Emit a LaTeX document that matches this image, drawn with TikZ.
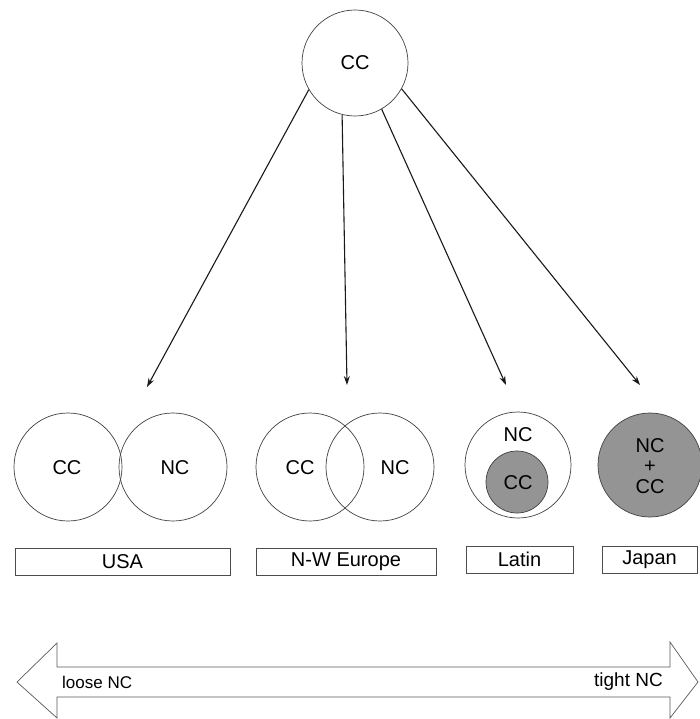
\documentclass[tikz,border=0pt]{standalone}
\usepackage{fontspec}
\setmainfont{Liberation Sans}
\usetikzlibrary{arrows.meta}
\begin{document}
\begin{tikzpicture}[x=1pt,y=-1pt,
  ring/.style={circle,draw=black!75,line width=0.7pt,minimum size=108pt,inner sep=0pt},
  lbl/.style={font=\fontsize{20}{20.5}\selectfont,inner sep=0pt},
  namebox/.style={draw=black!70,line width=0.7pt},
  link/.style={-{Stealth[length=9pt,width=6pt]},line width=1.1pt,black!90},
  shade/.style={fill=black!42}]
\useasboundingbox (0,0) rectangle (699,719);
% top
\node[ring,minimum size=106pt] (top) at (355,63) {};
\node[lbl] (toplbl) at (355,63) {CC};
% USA
\node[ring] (usacc) at (68,467) {};
\node[ring] (usanc) at (173,467) {};
\node[lbl] (usacct) at (67,468) {CC};
\node[lbl] (usanct) at (175,468) {NC};
% N-W Europe
\node[ring] (nwcc) at (310,467) {};
\node[ring] (nwnc) at (380,467) {};
\node[lbl] (nwcct) at (300,468) {CC};
\node[lbl] (nwnct) at (395,468) {NC};
% Latin
\node[ring,minimum size=106pt] (latout) at (518,465) {};
\node[ring,shade,minimum size=62pt] (latin) at (517,482) {};
\node[lbl] (latnc) at (518,435) {NC};
\node[lbl] (latcc) at (518,483) {CC};
% Japan
\node[ring,shade,minimum size=104pt] (jap) at (650,465) {};
\node[lbl,align=center] (japt) at (650,466) {NC\\+\\CC};
% boxes
\draw[namebox] (15,548) rectangle (230,575);
\node[lbl] (usa) at (122.5,561.5) {USA};
\draw[namebox] (256,548) rectangle (436,575);
\node[lbl] (nw) at (346,561.5) {N-W Europe};
\draw[namebox] (466,546) rectangle (573,573);
\node[lbl] (lat) at (519.5,559.5) {Latin};
\draw[namebox] (602,546) rectangle (697,573);
\node[lbl] (jp) at (649.5,559.5) {Japan};
% arrow ends
\coordinate (e1) at (147,387);
\coordinate (e2) at (347,385);
\coordinate (e3) at (506,385);
\coordinate (e4) at (640,385);
\draw[link] (top.210) -- (e1);
\draw[link] (top.256) -- (e2);
\draw[link] (top.300) -- (e3);
\draw[link] (top.331) -- (e4);
% scale arrow
\draw[black!65,line width=0.7pt] (17,682) -- (57,643) -- (57,667) -- (670,667) -- (670,642) -- (698,682) -- (670,718) -- (670,697) -- (57,697) -- (57,718) -- cycle;
\node[font=\fontsize{17}{17}\selectfont,anchor=west,inner sep=0pt] (loose) at (62,682) {loose NC};
\node[font=\fontsize{19}{19}\selectfont,anchor=east,inner sep=0pt] (tight) at (663,682) {tight NC};
\end{tikzpicture}
\end{document}
